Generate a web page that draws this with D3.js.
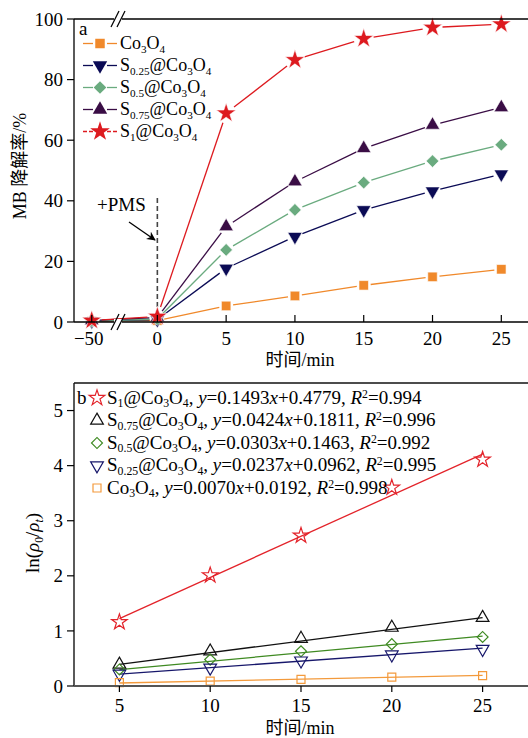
<!DOCTYPE html>
<html><head><meta charset="utf-8">
<script src="https://cdn.jsdelivr.net/npm/d3@7"></script>
<style>body{margin:0;background:#fff}svg{display:block}text{font-family:"Liberation Serif","Times New Roman",serif;fill:#000}</style>
</head><body><svg id="c" width="528" height="738"></svg>
<script>
// ---------- Data: panel a ----------
const timeA = [-50, 0, 5, 10, 15, 20, 25];
const co3o4A = [0.3, 0.5, 5.3, 8.6, 12.1, 14.9, 17.4];
const s025A = [0.3, 0.8, 17.7, 28.2, 37.0, 43.2, 48.8];
const s05A  = [0.3, 1.0, 23.8, 37.0, 46.0, 53.1, 58.5];
const s075A = [0.5, 1.5, 31.5, 46.3, 57.3, 65.0, 70.8];
const s1A   = [0.5, 1.8, 68.9, 86.5, 93.5, 97.2, 98.3];
const yTicksA = [0, 20, 40, 60, 80, 100];
const xTicksA = [-50, 0, 5, 10, 15, 20, 25];
// ---------- Data: panel b ----------
const timeB = [5, 10, 15, 20, 25];
const s1B   = [1.16, 2.01, 2.73, 3.60, 4.11];
const s075B = [0.39, 0.63, 0.86, 1.06, 1.24];
const s05B  = [0.30, 0.48, 0.63, 0.76, 0.89];
const s025B = [0.22, 0.33, 0.46, 0.57, 0.67];
const co3o4B = [0.06, 0.09, 0.12, 0.16, 0.19];
const slopesB = [0.1493, 0.0424, 0.0303, 0.0237, 0.0070];
const interceptsB = [0.4779, 0.1811, 0.1463, 0.0962, 0.0192];
const r2B = ["0.994", "0.996", "0.992", "0.995", "0.998"];
const yTicksB = [0, 1, 2, 3, 4, 5];
const xTicksB = [5, 10, 15, 20, 25];

const svg = d3.select("#c");
const cjk = '"Liberation Serif","Noto Sans CJK SC",serif';

function rich(sel, parts, size) {
  parts.forEach(p => {
    const ts = sel.append("tspan").text(p.t);
    if (p.sub) ts.attr("font-size", size*0.62).attr("dy", 3.5);
    else if (p.sup) ts.attr("font-size", size*0.62).attr("dy", -6);
    if (p.back) ts.attr("dy", p.back);
    if (p.i) ts.attr("font-style", "italic");
  });
}
function nameParts(s) {
  const a = [];
  if (s !== null) { a.push({t:"S"}); a.push({t:s, sub:true}); a.push({t:"@Co", back:-3.5}); }
  else a.push({t:"Co"});
  a.push({t:"3", sub:true}); a.push({t:"O", back:-3.5}); a.push({t:"4", sub:true});
  return a;
}

// ================= Panel a =================
const xA = d3.scaleLinear().domain([-51.29, -48.09, -2.86, 26.94]).range([74, 118, 118, 528]);
const yA = d3.scaleLinear().domain([0, 100]).range([322, 19]);
const gA = svg.append("g");

const seriesA = [
  {name:null, vals:co3o4A, color:"#F0892B", sym:d3.symbolSquare, size:90, rot:0, gap:7},
  {name:"0.25", vals:s025A, color:"#0B0B55", sym:d3.symbolTriangle, size:90, rot:180, gap:8},
  {name:"0.5", vals:s05A, color:"#6AAB7F", sym:d3.symbolSquare, size:80, rot:45, gap:8},
  {name:"0.75", vals:s075A, color:"#3A0D45", sym:d3.symbolTriangle, size:90, rot:0, gap:8},
  {name:"1", vals:s1A, color:"#DD1A1F", sym:d3.symbolStar, size:120, rot:0, gap:10}
];
seriesA.forEach(s => {
  const pts = timeA.map((t,i) => [xA(t), yA(s.vals[i])]);
  for (let i = 0; i < pts.length-1; i++) {
    const [x1,y1] = pts[i], [x2,y2] = pts[i+1];
    const L = Math.hypot(x2-x1, y2-y1);
    if (L < 2*s.gap + 1) continue;
    const ux = (x2-x1)/L, uy = (y2-y1)/L;
    gA.append("line").attr("x1", x1+ux*s.gap).attr("y1", y1+uy*s.gap)
      .attr("x2", x2-ux*s.gap).attr("y2", y2-uy*s.gap)
      .attr("stroke", s.color).attr("stroke-width", 1.3);
  }
});
gA.append("line").attr("x1", xA(0)).attr("x2", xA(0)).attr("y1", 198).attr("y2", yA(0))
  .attr("stroke", "#444").attr("stroke-width", 1.6).attr("stroke-dasharray", "5,3");
seriesA.forEach(s => {
  gA.selectAll(null).data(timeA).enter().append("path")
    .attr("d", d3.symbol().type(s.sym).size(s.size))
    .attr("transform", (t,i) => `translate(${xA(t)},${yA(s.vals[i])}) rotate(${s.rot})`)
    .attr("fill", s.color).attr("stroke", "#fff").attr("stroke-width", 0.6);
});
gA.append("line").attr("x1", 74).attr("x2", 74).attr("y1", 19).attr("y2", 322).attr("stroke", "#000").attr("stroke-width", 1.3);
gA.append("line").attr("x1", 74).attr("x2", 528).attr("y1", 322).attr("y2", 322).attr("stroke", "#000").attr("stroke-width", 1.5);
gA.append("line").attr("x1", 74).attr("x2", 528).attr("y1", 19).attr("y2", 19).attr("stroke", "#000").attr("stroke-width", 1.5);
yTicksA.forEach(v => {
  gA.append("line").attr("x1", 67).attr("x2", 74).attr("y1", yA(v)).attr("y2", yA(v)).attr("stroke", "#000").attr("stroke-width", 1.2);
  gA.append("text").attr("x", 63).attr("y", yA(v)).attr("dy", "0.35em").attr("text-anchor", "end").attr("font-size", 19).text(v);
});
xTicksA.forEach(v => {
  gA.append("line").attr("x1", xA(v)).attr("x2", xA(v)).attr("y1", 315).attr("y2", 322).attr("stroke", "#000").attr("stroke-width", 1.2);
  gA.append("text").attr("x", xA(v) + (v < 0 ? -3 : 0)).attr("y", 345).attr("text-anchor", "middle").attr("font-size", 19).text(v < 0 ? "\u2212" + Math.abs(v) : v);
});
[[118, 322], [118, 19]].forEach(([bx, by]) => {
  gA.append("rect").attr("x", bx-4).attr("y", by-3).attr("width", 8).attr("height", 6).attr("fill", "#fff");
  [-3, 3].forEach(o => gA.append("line").attr("x1", bx+o-4).attr("y1", by+8).attr("x2", bx+o+4).attr("y2", by-8)
    .attr("stroke", "#000").attr("stroke-width", 1.2));
});
gA.append("text").attr("x", 97).attr("y", 211).attr("font-size", 19).text("+PMS");
svg.append("defs").append("marker").attr("id", "ah").attr("viewBox", "0 0 10 10").attr("refX", 9).attr("refY", 5)
  .attr("markerWidth", 9).attr("markerHeight", 9).attr("orient", "auto").attr("markerUnits", "userSpaceOnUse")
  .append("path").attr("d", "M0,0 L10,5 L0,10 L3,5 Z").attr("fill", "#000");
gA.append("line").attr("x1", 129).attr("y1", 222).attr("x2", 155).attr("y2", 240)
  .attr("stroke", "#000").attr("stroke-width", 1.3).attr("marker-end", "url(#ah)");
gA.append("text").attr("x", 79).attr("y", 35).attr("font-size", 19).text("a");
seriesA.forEach((s, i) => {
  const ly = 43.5 + i*22;
  const dash = s.name === "1" ? "4,2" : null;
  gA.append("line").attr("x1", 83).attr("x2", 93).attr("y1", ly).attr("y2", ly).attr("stroke", s.color).attr("stroke-width", 1.3).attr("stroke-dasharray", dash);
  gA.append("line").attr("x1", 107).attr("x2", 117).attr("y1", ly).attr("y2", ly).attr("stroke", s.color).attr("stroke-width", 1.3).attr("stroke-dasharray", dash);
  gA.append("path").attr("d", d3.symbol().type(s.sym).size(s.size))
    .attr("transform", `translate(100,${ly}) rotate(${s.rot})`).attr("fill", s.color);
  const t = gA.append("text").attr("x", 120).attr("y", ly + 5.5).attr("font-size", 18);
  rich(t, nameParts(s.name), 18);
});
svg.append("text").attr("transform", "translate(26,166) rotate(-90)").attr("text-anchor", "middle").attr("font-size", 18)
  .style("font-family", cjk).text("MB 降解率/%");
svg.append("text").attr("x", 300).attr("y", 366).attr("text-anchor", "middle").attr("font-size", 18)
  .style("font-family", cjk).text("时间/min");

// ================= Panel b =================
const xB = d3.scaleLinear().domain([2.5, 27.5]).range([74, 528]);
const yB = d3.scaleLinear().domain([0, 5.5]).range([686, 383]);
const gB = svg.append("g");
const seriesB = [
  {name:"1", vals:s1B, color:"#E3232A", sym:d3.symbolStar, size:75, rot:0},
  {name:"0.75", vals:s075B, color:"#111", sym:d3.symbolTriangle, size:70, rot:0},
  {name:"0.5", vals:s05B, color:"#3F8A22", sym:d3.symbolSquare, size:60, rot:45},
  {name:"0.25", vals:s025B, color:"#17176B", sym:d3.symbolTriangle, size:70, rot:180},
  {name:null, vals:co3o4B, color:"#F39A3C", sym:d3.symbolSquare, size:64, rot:0}
];
seriesB.forEach((s, k) => {
  const lineGen = d3.line().x(d => xB(d)).y(d => yB(slopesB[k]*d + interceptsB[k]));
  gB.append("path").attr("d", lineGen([timeB[0], timeB[timeB.length-1]])).attr("fill", "none")
    .attr("stroke", s.color).attr("stroke-width", 1.3);
});
seriesB.forEach(s => {
  gB.selectAll(null).data(timeB).enter().append("path")
    .attr("d", d3.symbol().type(s.sym).size(s.size))
    .attr("transform", (t,i) => `translate(${xB(t)},${yB(s.vals[i])}) rotate(${s.rot})`)
    .attr("fill", "none").attr("stroke", s.color).attr("stroke-width", 1.2);
});
gB.append("line").attr("x1", 74).attr("x2", 74).attr("y1", 383).attr("y2", 686).attr("stroke", "#000").attr("stroke-width", 1.3);
gB.append("line").attr("x1", 74).attr("x2", 528).attr("y1", 383).attr("y2", 383).attr("stroke", "#111").attr("stroke-width", 1.6);
gB.append("line").attr("x1", 74).attr("x2", 528).attr("y1", 686).attr("y2", 686).attr("stroke", "#555").attr("stroke-width", 1.8);
yTicksB.forEach(v => {
  gB.append("line").attr("x1", 67).attr("x2", 74).attr("y1", yB(v)).attr("y2", yB(v)).attr("stroke", "#000").attr("stroke-width", 1.2);
  gB.append("text").attr("x", 63).attr("y", yB(v)).attr("dy", "0.35em").attr("text-anchor", "end").attr("font-size", 19).text(v);
});
xTicksB.forEach(v => {
  gB.append("line").attr("x1", xB(v)).attr("x2", xB(v)).attr("y1", 686).attr("y2", 692).attr("stroke", "#000").attr("stroke-width", 1.2);
  gB.append("text").attr("x", xB(v)).attr("y", 712).attr("text-anchor", "middle").attr("font-size", 19).text(v);
});
gB.append("text").attr("x", 77).attr("y", 404).attr("font-size", 19).text("b");
seriesB.forEach((s, k) => {
  const ly = 398 + k*22.5;
  gB.append("path").attr("d", d3.symbol().type(s.sym).size(s.size))
    .attr("transform", `translate(97,${ly}) rotate(${s.rot})`).attr("fill", "none").attr("stroke", s.color).attr("stroke-width", 1.2);
  const t = gB.append("text").attr("x", 107).attr("y", ly + 5.5).attr("font-size", 19);
  const parts = nameParts(s.name);
  parts.push({t:", ", back:-3.5});
  parts.push({t:"y", i:true}); parts.push({t:"=" + slopesB[k].toFixed(4)}); parts.push({t:"x", i:true});
  parts.push({t:"+" + interceptsB[k].toFixed(4) + ", "}); parts.push({t:"R", i:true});
  parts.push({t:"2", sup:true}); parts.push({t:"=" + r2B[k], back:6});
  rich(t, parts, 19);
});
const yt = svg.append("text").attr("transform", "translate(39,543) rotate(-90)").attr("text-anchor", "middle").attr("font-size", 19);
rich(yt, [{t:"ln("}, {t:"ρ", i:true}, {t:"0", sub:true}, {t:"/", back:-3.5}, {t:"ρ", i:true}, {t:"t", sub:true, i:true}, {t:")", back:-3.5}], 19);
svg.append("text").attr("x", 300).attr("y", 734).attr("text-anchor", "middle").attr("font-size", 18)
  .style("font-family", cjk).text("时间/min");
</script></body></html>
